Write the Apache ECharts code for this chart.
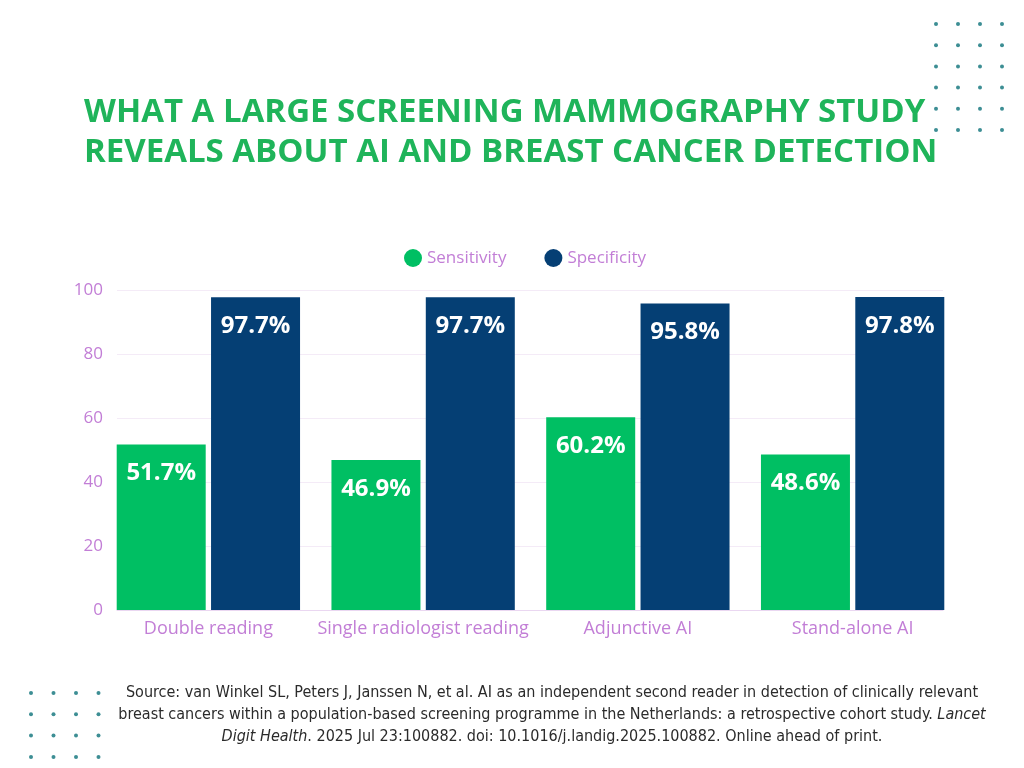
<!DOCTYPE html>
<html>
<head>
<meta charset="utf-8">
<script src="https://cdn.jsdelivr.net/npm/echarts@6/dist/echarts.min.js"></script>
<style>
  html, body { margin: 0; padding: 0; background: #fff; }
  #chart { width: 1024px; height: 768px; }
</style>
</head>
<body>
<div id="chart"></div>
<script>
// chart data
var categories = ['Double reading', 'Single radiologist reading', 'Adjunctive AI', 'Stand-alone AI'];
var sensitivity = [51.7, 46.9, 60.2, 48.6];
var specificity = [97.7, 97.7, 95.8, 97.8];
var yTicks = [0, 20, 40, 60, 80, 100];

var GREEN = '#00bf63';
var NAVY = '#053f74';
var VIOLET = '#c27ed6';
var DOT = '#3d8e94';
var SRC_FONT = '"DejaVu Sans Condensed", "Liberation Sans", sans-serif';

var chart = echarts.init(document.getElementById('chart'));

// decorative dot patterns in the corners
var dots = [];
function dotBlock(x0, y0, cols, rows, dx, dy) {
    for (var r = 0; r < rows; r++) {
        for (var c = 0; c < cols; c++) {
            dots.push({
                type: 'circle',
                shape: { cx: x0 + c * dx, cy: y0 + r * dy, r: 2 },
                style: { fill: DOT }
            });
        }
    }
}
dotBlock(936, 24, 4, 6, 22, 21.2);
dotBlock(31, 693, 4, 4, 22.5, 21.3);

function pctLabel(p) {
    return p.value.toFixed(1) + '%';
}

var option = {
    backgroundColor: '#fff',
    textStyle: { fontFamily: 'Open Sans' },
    title: [
        {
            text: 'WHAT A LARGE SCREENING MAMMOGRAPHY STUDY\nREVEALS ABOUT AI AND BREAST CANCER DETECTION',
            left: 79,
            top: 88,
            textAlign: 'left',
            textStyle: {
                color: '#1fb45a',
                fontFamily: 'Open Sans',
                fontWeight: 'bold',
                fontSize: 33,
                lineHeight: 40
            }
        },
        {
            text: 'Source: van Winkel SL, Peters J, Janssen N, et al. AI as an independent second reader in detection of clinically relevant\n' +
                'breast cancers within a population-based screening programme in the Netherlands: a retrospective cohort study. {i|Lancet}\n' +
                '{i|Digit Health}. 2025 Jul 23:100882. doi: 10.1016/j.landig.2025.100882. Online ahead of print.',
            left: 547,
            top: 677,
            textAlign: 'center',
            textStyle: {
                color: '#2b2b2b',
                fontFamily: SRC_FONT,
                fontWeight: 'normal',
                fontSize: 16,
                lineHeight: 22,
                rich: {
                    i: {
                        fontFamily: SRC_FONT,
                        fontStyle: 'italic',
                        fontSize: 16,
                        color: '#2b2b2b'
                    }
                }
            }
        }
    ],
    legend: {
        data: ['Sensitivity', 'Specificity'],
        left: 399,
        top: 244,
        icon: 'circle',
        itemWidth: 18,
        itemHeight: 18,
        itemGap: 38,
        textStyle: { color: VIOLET, fontSize: 17, fontFamily: 'Open Sans' }
    },
    grid: [
        { left: 117, right: 81, top: 290, bottom: 158 },
        { left: 101, right: 64, top: 290, bottom: 158 }
    ],
    xAxis: [
        {
            type: 'category',
            gridIndex: 0,
            data: categories,
            axisLine: { lineStyle: { color: '#ead7f1', width: 1 } },
            axisTick: { show: false },
            axisLabel: { show: false }
        },
        {
            type: 'category',
            gridIndex: 1,
            data: categories,
            axisLine: { show: false },
            axisTick: { show: false },
            axisLabel: { color: VIOLET, fontSize: 18, margin: 10, interval: 0, fontFamily: 'Open Sans' }
        }
    ],
    yAxis: [
        {
            type: 'value',
            gridIndex: 0,
            min: yTicks[0],
            max: yTicks[yTicks.length - 1],
            interval: 20,
            axisLine: { show: false },
            axisTick: { show: false },
            splitLine: { lineStyle: { color: '#f4ebf7', width: 1 } },
            axisLabel: { color: VIOLET, fontSize: 17, margin: 14, fontFamily: 'Open Sans' }
        },
        {
            type: 'value',
            gridIndex: 1,
            min: yTicks[0],
            max: yTicks[yTicks.length - 1],
            interval: 20,
            show: false
        }
    ],
    series: [
        {
            name: 'Sensitivity',
            type: 'bar',
            xAxisIndex: 1,
            yAxisIndex: 1,
            data: sensitivity,
            barWidth: 89,
            barGap: '6%',
            itemStyle: { color: GREEN },
            label: {
                show: true,
                position: 'insideTop',
                distance: 17,
                formatter: pctLabel,
                color: '#fff',
                fontSize: 24,
                fontWeight: 'bold',
                fontFamily: 'Open Sans'
            }
        },
        {
            name: 'Specificity',
            type: 'bar',
            xAxisIndex: 1,
            yAxisIndex: 1,
            data: specificity,
            barWidth: 89,
            barGap: '6%',
            itemStyle: { color: NAVY },
            label: {
                show: true,
                position: 'insideTop',
                distance: 17,
                formatter: pctLabel,
                color: '#fff',
                fontSize: 24,
                fontWeight: 'bold',
                fontFamily: 'Open Sans'
            }
        }
    ],
    graphic: dots
};

chart.setOption(option);
</script>
</body>
</html>
